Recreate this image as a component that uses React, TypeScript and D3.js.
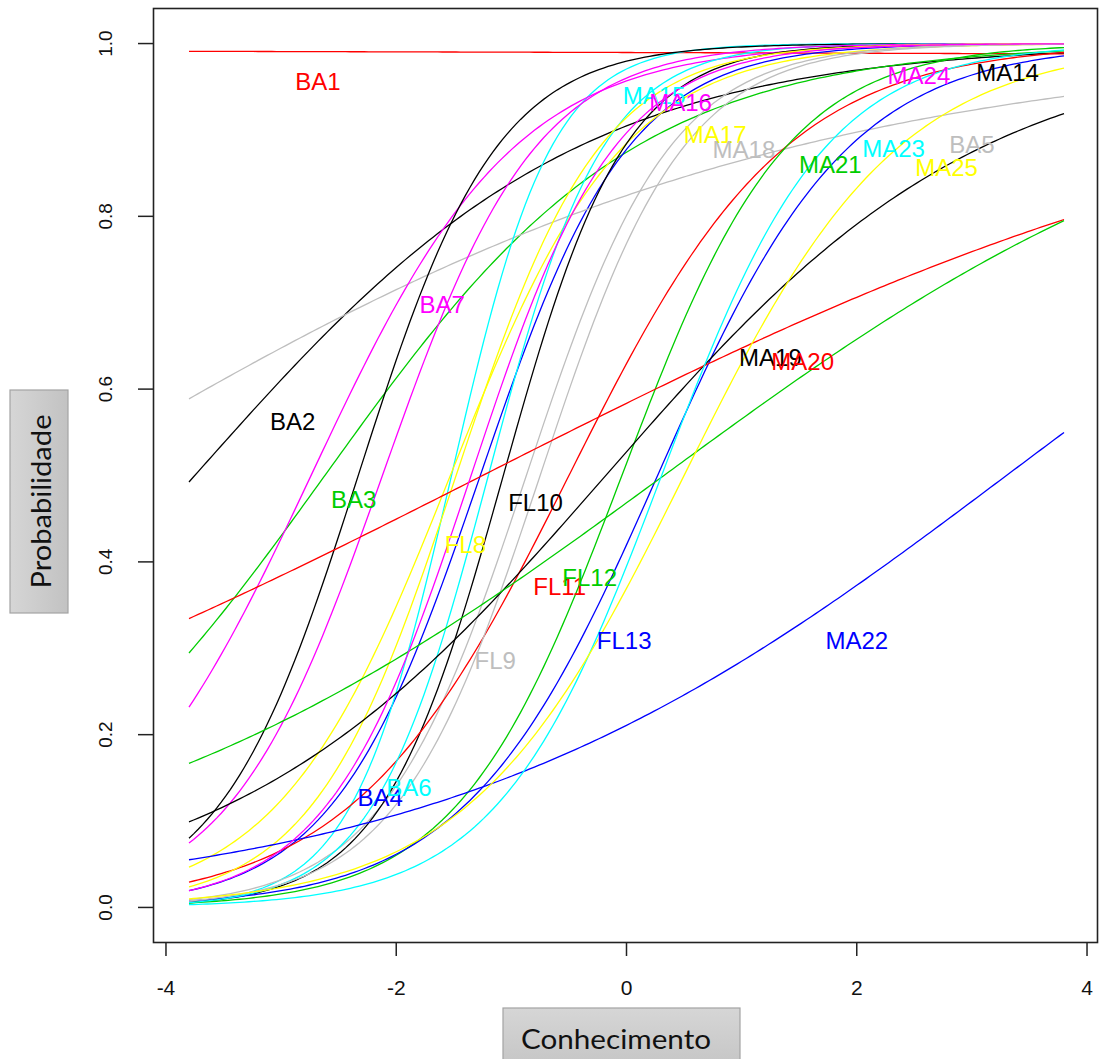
import React from 'react';
import * as d3 from 'd3';

// item names, curve colours and 2PL parameters (a = discrimination, b = difficulty)
const items = ['BA1', 'BA2', 'BA3', 'BA4', 'BA5', 'BA6', 'BA7', 'FL8', 'FL9', 'FL10', 'FL11', 'FL12', 'FL13',
  'MA14', 'MA15', 'MA16', 'MA17', 'MA18', 'MA19', 'MA20', 'MA21', 'MA22', 'MA23', 'MA24', 'MA25'];
const colors = ['#FF0000', '#000000', '#00CD00', '#0000FF', '#BEBEBE', '#00FFFF', '#FF00FF', '#FFFF00', '#BEBEBE',
  '#000000', '#FF0000', '#00CD00', '#0000FF', '#000000', '#00FFFF', '#FF00FF', '#FFFF00', '#BEBEBE', '#000000',
  '#FF0000', '#00CD00', '#0000FF', '#00FFFF', '#FF00FF', '#FFFF00'];
const discrimination = [-0.038, 0.6, 0.74, 1.55, 0.312, 2.3, 1.13, 1.33, 1.6, 1.9, 1.06, 1.4, 1.2,
  1.66, 2.0, 1.5, 1.6, 1.6, 0.61, 0.27, 0.39, 0.4, 1.4, 1.6, 1.07];
const difficulty = [120, -3.75, -2.62, -1.27, -4.95, -1.52, -2.74, -1.53, -0.87, -1.07, -0.5, -0.04, 0.27,
  -2.33, -1.2, -2.12, -1.48, -0.75, -0.18, -1.25, 0.325, 3.3, 0.305, -1.35, 0.5];
// where each item name was written (theta, probability)
const labelTheta = [-2.68, -2.9, -2.37, -2.14, 3.0, -1.89, -1.6, -1.4, -1.14, -0.79, -0.58, -0.32, -0.02,
  3.31, 0.24, 0.47, 0.77, 1.02, 1.25, 1.53, 1.77, 2.0, 2.32, 2.54, 2.78];
const labelProb = [0.956, 0.563, 0.472, 0.127, 0.883, 0.139, 0.698, 0.42, 0.286, 0.469, 0.371, 0.382, 0.309,
  0.966, 0.94, 0.932, 0.895, 0.877, 0.637, 0.632, 0.86, 0.309, 0.879, 0.963, 0.856];

const xTicks = [-4, -2, 0, 2, 4];
const yTicks = [0, 0.2, 0.4, 0.6, 0.8, 1.0];
const thetaRange = [-3.8, 3.8];

const W = 1099;
const H = 1059;

const App = () => {
  const x = d3.scaleLinear().domain([-4.104, 4.104]).range([154, 1099]);
  const y = d3.scaleLinear().domain([-0.04, 1.04]).range([942, 9]);

  const thetas = d3.range(thetaRange[0], thetaRange[1] + 1e-9, 0.04);
  const line = d3.line<number[]>().x((d) => x(d[0])).y((d) => y(d[1]));

  const prob = (a: number, b: number, t: number) => 1 / (1 + Math.exp(-a * (t - b)));

  return (
    <svg width={W} height={H} style={{ position: 'absolute', left: 0, top: 0, background: '#fff' }}
      fontFamily="'Liberation Sans', Arial, sans-serif">
      <defs>
        <linearGradient id="boxFill" x1="0" y1="0" x2="0" y2="1">
          <stop offset="0" stopColor="#d6d6d6" />
          <stop offset="1" stopColor="#c2c2c2" />
        </linearGradient>
        <linearGradient id="boxFillH" x1="0" y1="0" x2="1" y2="0">
          <stop offset="0" stopColor="#d6d6d6" />
          <stop offset="1" stopColor="#c2c2c2" />
        </linearGradient>
      </defs>
      <rect x={0} y={0} width={W} height={H} fill="#fff" />

      {/* curves */}
      <g fill="none" strokeWidth={1.3}>
        {items.map((name, i) => (
          <path key={name} stroke={colors[i]}
            d={line(thetas.map((t) => [t, prob(discrimination[i], difficulty[i], t)])) || ''} />
        ))}
      </g>

      {/* item labels */}
      <g fontSize={24} textAnchor="middle" dominantBaseline="central">
        {items.map((name, i) => (
          <text key={name} x={x(labelTheta[i])} y={y(labelProb[i])} fill={colors[i]}>{name}</text>
        ))}
      </g>

      {/* frame */}
      <rect x={153.5} y={8.5} width={944} height={934} fill="none" stroke="#222" strokeWidth={1.6} />

      {/* x axis */}
      <g>
        {xTicks.map((t) => (
          <g key={t}>
            <line x1={x(t)} x2={x(t)} y1={942.5} y2={956} stroke="#222" strokeWidth={1.5} />
            <text x={x(t)} y={987} fontSize={21} textAnchor="middle" dominantBaseline="central" fill="#111">{t}</text>
          </g>
        ))}
      </g>

      {/* y axis */}
      <g>
        {yTicks.map((t) => (
          <g key={t}>
            <line x1={138} x2={153.5} y1={y(t)} y2={y(t)} stroke="#222" strokeWidth={1.5} />
            <text transform={`translate(105,${y(t)}) rotate(-90)`} fontSize={19} textAnchor="middle"
              dominantBaseline="central" fill="#111">{t.toFixed(1)}</text>
          </g>
        ))}
      </g>

      {/* axis titles in grey boxes */}
      <rect x={10} y={390} width={58} height={223} fill="url(#boxFillH)" stroke="#a3a3a3" strokeWidth={1.2} />
      <text transform="translate(40,501.5) rotate(-90)" fontFamily="Lato, 'Open Sans', sans-serif" fontSize={27}
        textAnchor="middle" dominantBaseline="central" textLength={174} lengthAdjust="spacingAndGlyphs" fill="#111">
        Probabilidade
      </text>
      <rect x={503} y={1008} width={237} height={70} fill="url(#boxFill)" stroke="#a3a3a3" strokeWidth={1.2} />
      <text x={616} y={1038} fontFamily="Lato, 'Open Sans', sans-serif" fontSize={27}
        textAnchor="middle" dominantBaseline="central" textLength={190} lengthAdjust="spacingAndGlyphs" fill="#111">
        Conhecimento
      </text>
    </svg>
  );
};

export default App;
